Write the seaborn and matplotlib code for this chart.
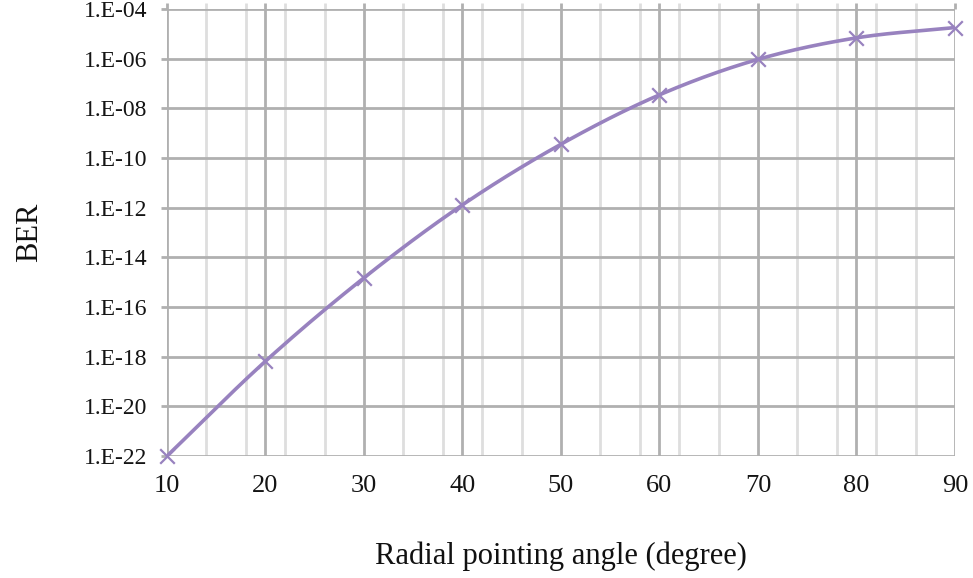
import numpy as np
import pandas as pd
import matplotlib
matplotlib.use("Agg")
import matplotlib.pyplot as plt
import seaborn as sns
from matplotlib.ticker import FixedLocator, FuncFormatter

# ---- data ----
angles = [10, 20, 30, 40, 50, 60, 70, 80, 90]
ber = [1.0e-22, 6.6e-19, 1.5e-15, 1.3e-12, 3.6e-10, 3.5e-8, 9.4e-7, 6.9e-6, 1.8e-5]
y_ticks = [1e-22, 1e-20, 1e-18, 1e-16, 1e-14, 1e-12, 1e-10, 1e-8, 1e-6, 1e-4]
x_ticks = [10, 20, 30, 40, 50, 60, 70, 80, 90]
x_minor = [14, 18, 22, 26, 34, 38, 42, 46, 54, 58, 62, 66, 74, 78, 82, 86]

color = "#9882BF"

sns.set_theme(style="white")
plt.rcParams["font.family"] = ["Liberation Serif", "DejaVu Serif"]

fig = plt.figure(figsize=(9.73, 5.78), dpi=100)
ax = fig.add_axes([0.1716, 0.211, 0.8099, 0.7734])

# smoothed line (Catmull-Rom through the data points, in log space) - drawing style only
xs = np.array(angles, dtype=float)
ls = np.log10(np.array(ber))
P = np.column_stack([xs, ls])
Pext = np.vstack([2 * P[0] - P[1], P, 2 * P[-1] - P[-2]])
curve = []
t = np.linspace(0, 1, 30)[:, None]
for i in range(1, len(Pext) - 2):
    p0, p1, p2, p3 = Pext[i - 1], Pext[i], Pext[i + 1], Pext[i + 2]
    seg = 0.5 * ((2 * p1) + (-p0 + p2) * t + (2 * p0 - 5 * p1 + 4 * p2 - p3) * t**2
                 + (-p0 + 3 * p1 - 3 * p2 + p3) * t**3)
    curve.append(seg if i == len(Pext) - 3 else seg[:-1])
curve = np.vstack(curve)
smooth = pd.DataFrame({"angle": curve[:, 0], "BER": 10 ** curve[:, 1]})
df = pd.DataFrame({"angle": angles, "BER": ber})

ax.set_yscale("log")
sns.lineplot(data=smooth, x="angle", y="BER", ax=ax, color=color, linewidth=2.6,
             sort=False, zorder=3)
ax.scatter(df["angle"], df["BER"], marker="x", s=110, color=color, linewidths=1.6,
           zorder=4, clip_on=False)

ax.set_xlim(10, 90)
ax.set_ylim(1e-22, 1e-4)
ax.xaxis.set_major_locator(FixedLocator(x_ticks))
ax.xaxis.set_minor_locator(FixedLocator(x_minor))
ax.yaxis.set_major_locator(FixedLocator(y_ticks))
ax.yaxis.set_minor_locator(FixedLocator([]))
ax.yaxis.set_major_formatter(FuncFormatter(lambda v, p: "1.E-%02d" % abs(round(np.log10(v)))))

ax.grid(True, which="major", axis="both", color="#b0b0b0", linewidth=2.0)
ax.grid(True, which="minor", axis="x", color="#dedede", linewidth=2.0)
ax.set_axisbelow(True)
for s in ax.spines.values():
    s.set_visible(False)

ax.tick_params(axis="x", which="both", bottom=False, top=True, length=4.5, width=2.0,
               labelsize=19, pad=9, labelcolor="#141414")
ax.tick_params(axis="x", which="major", color="#b0b0b0")
ax.tick_params(axis="x", which="minor", color="#dedede")
ax.tick_params(axis="y", which="major", left=True, length=4, width=2.0, color="#b0b0b0",
               labelsize=17, pad=10, labelcolor="#141414")

ax.set_xlabel("Radial pointing angle (degree)", fontsize=22, color="#111111", va="center")
ax.xaxis.set_label_coords(0.5, -0.224)
ax.set_ylabel("BER", fontsize=22, color="#111111", va="center")
ax.yaxis.set_label_coords(-0.174, 0.5)

fig.savefig("out.png", dpi=100)
